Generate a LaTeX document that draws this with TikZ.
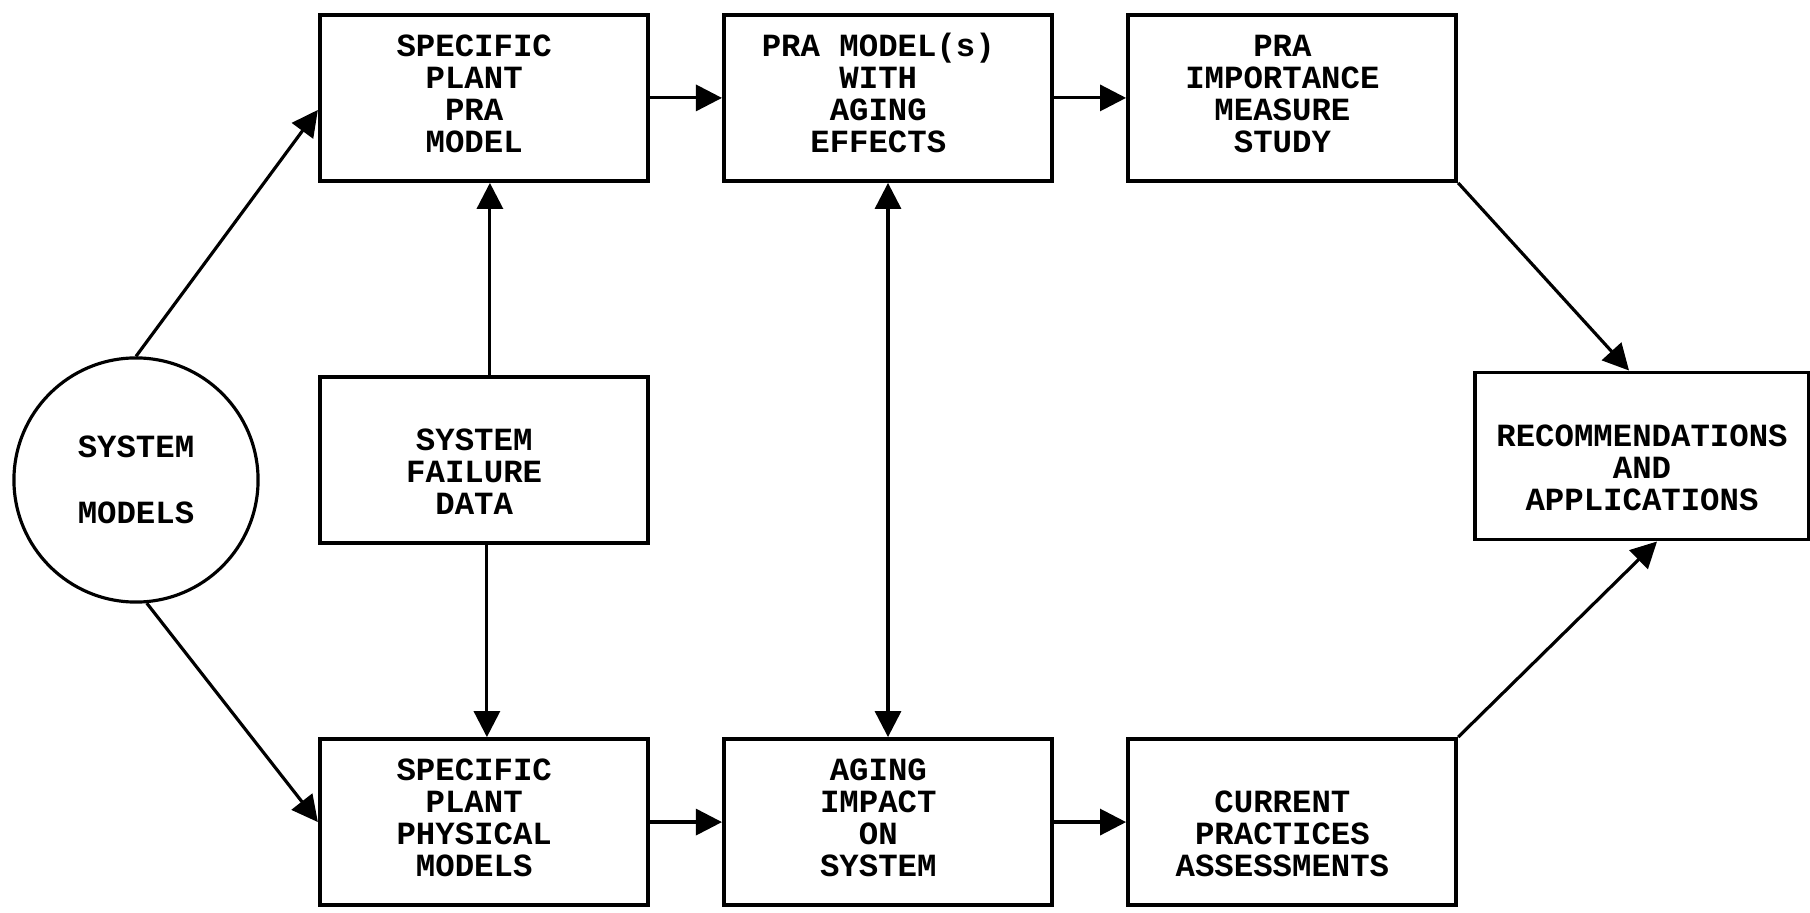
\documentclass[tikz,border=0pt]{standalone}
\usepackage{fontspec}
\newfontfamily\plotterfont{Liberation Mono}
\usepackage{tikz}
\usetikzlibrary{matrix,arrows.meta,positioning}
\tikzset{
	block/.style={draw, line width=1.1pt, inner sep=0mm, minimum width=3.28cm, minimum height=1.66cm, font=\plotterfont\bfseries\fontsize{9.2}{9.1}\selectfont, align=center},
	link/.style={line width=0.9pt, -{Triangle[length=2.6mm,width=2.6mm]}},
	twolink/.style={line width=0.9pt, {Triangle[length=2.6mm,width=2.6mm]}-{Triangle[length=2.6mm,width=2.6mm]}}
}

\begin{document}
\begin{tikzpicture}[x=0.01cm, y=-0.01cm, ampersand replacement=\&]
	\useasboundingbox (0,0) rectangle (1810,913);

	\node[block, circle, line width=0.9pt, minimum size=2.44cm] (sys-models) at (136,480) {SYSTEM\\[9.5pt]MODELS};

	\matrix (flow)[matrix of nodes,
			  column sep=0.72cm, row sep=1.92cm, nodes=block] at (888,460) {
		\begin{tabular}{c} SPECIFIC \\ PLANT \\ PRA \\ MODEL \end{tabular} \& %flow-1-1
		\begin{tabular}{c} PRA MODEL(s) \\ WITH \\ AGING \\ EFFECTS \end{tabular} \& %flow-1-2
		\begin{tabular}{c} PRA \\ IMPORTANCE \\ MEASURE \\ STUDY \end{tabular} \\ %flow-1-3
		\begin{tabular}{c} \\ SYSTEM \\ FAILURE \\ DATA \end{tabular} \& \& \\ %flow-2-1
		\begin{tabular}{c} SPECIFIC \\ PLANT \\ PHYSICAL \\ MODELS \end{tabular} \& %flow-3-1
		\begin{tabular}{c} AGING \\ IMPACT \\ ON \\ SYSTEM \end{tabular} \& %flow-3-2
		\begin{tabular}{c} \\ CURRENT \\ PRACTICES \\ ASSESSMENTS \end{tabular} \\ %flow-3-3
	};

	\node[block, minimum width=3.32cm, minimum height=1.67cm] (rec-apps) at (1642,456)
		{\begin{tabular}{c} \\ RECOMMENDATIONS \\ AND \\ APPLICATIONS \end{tabular}};

	% left side
	\draw[link] (sys-models.north) -- ([yshift=-0.12cm]flow-1-1.west);
	\draw[link] (sys-models.-85) -- (flow-3-1.west);
	\draw[link] ([xshift=0.06cm]flow-2-1.north) -- ([xshift=0.06cm]flow-1-1.south);
	\draw[link] ([xshift=0.03cm]flow-2-1.south) -- ([xshift=0.03cm]flow-3-1.north);

	% rows
	\draw[link] (flow-1-1.east) -- (flow-1-1.east -| flow-1-2.west);
	\draw[link] (flow-1-2.east) -- (flow-1-2.east -| flow-1-3.west);
	\draw[link] (flow-3-1.east) -- (flow-3-1.east -| flow-3-2.west);
	\draw[link] (flow-3-2.east) -- (flow-3-2.east -| flow-3-3.west);
	\draw[twolink] (flow-1-2.south) -- (flow-3-2.north);

	% right side
	\draw[link] (flow-1-3.south east) -- ([xshift=-0.13cm]rec-apps.north);
	\draw[link] (flow-3-3.north east) -- ([xshift=0.15cm]rec-apps.south);
\end{tikzpicture}
\end{document}
